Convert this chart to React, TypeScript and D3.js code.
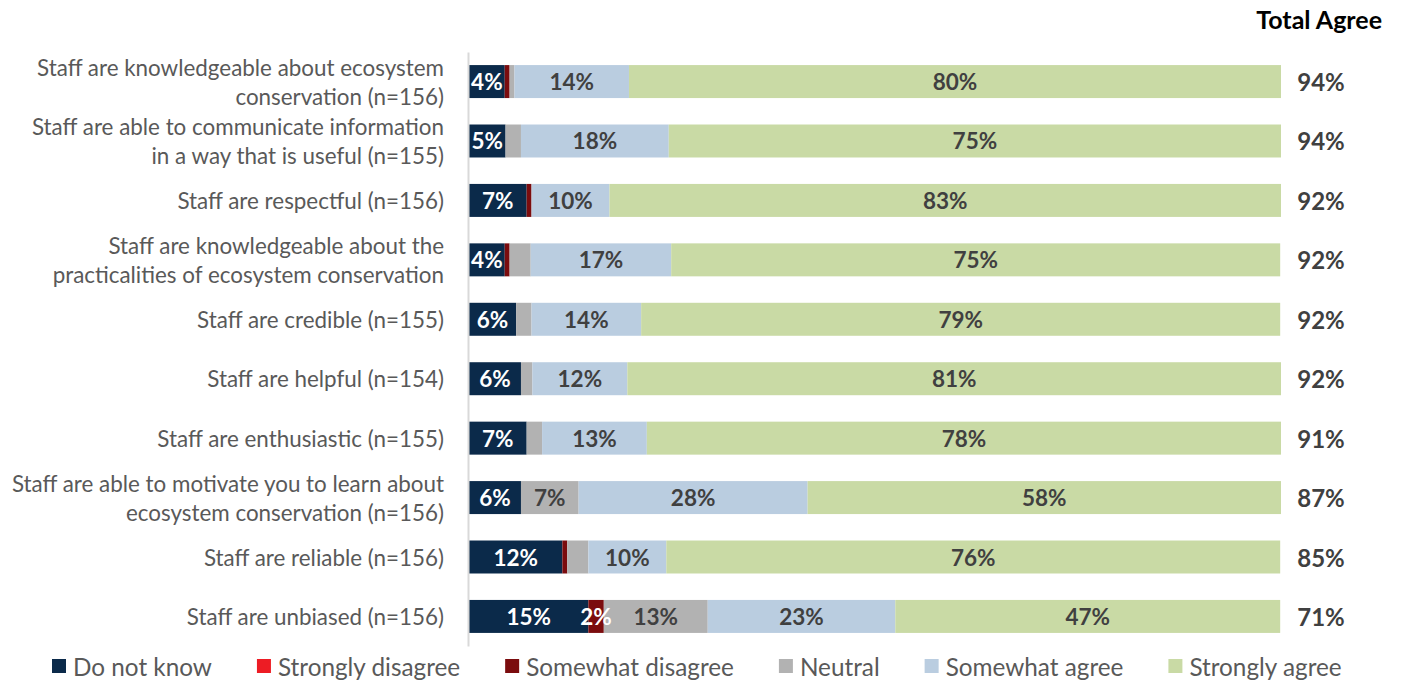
import React, { useEffect, useRef } from 'react';
import * as d3 from 'd3';

const categories = [
  'Staff are knowledgeable about ecosystem\nconservation (n=156)',
  'Staff are able to communicate information\nin a way that is useful (n=155)',
  'Staff are respectful (n=156)',
  'Staff are knowledgeable about the\npracticalities of ecosystem conservation',
  'Staff are credible (n=155)',
  'Staff are helpful (n=154)',
  'Staff are enthusiastic (n=155)',
  'Staff are able to motivate you to learn about\necosystem conservation (n=156)',
  'Staff are reliable (n=156)',
  'Staff are unbiased (n=156)'
];

const seriesNames = [
  'Do not know',
  'Strongly disagree',
  'Somewhat disagree',
  'Neutral',
  'Somewhat agree',
  'Strongly agree'
];
const seriesColors = ['#0B2A4A', '#ED1C24', '#7B0C0E', '#B2B2B2', '#BACDE0', '#C9DAA5'];

const doNotKnow = [4.4, 4.5, 7.1, 4.4, 5.8, 6.4, 7.1, 6.4, 11.5, 14.7];
const stronglyDisagree = [0, 0, 0, 0, 0, 0, 0, 0, 0, 0];
const somewhatDisagree = [0.6, 0, 0.6, 0.6, 0, 0, 0, 0, 0.6, 1.9];
const neutral = [0.6, 1.9, 0, 2.6, 1.9, 1.4, 1.9, 7.1, 2.6, 12.8];
const somewhatAgree = [14.1, 18.2, 9.6, 17.3, 13.5, 11.7, 12.9, 28.2, 9.6, 23.1];
const stronglyAgree = [80.3, 75.4, 82.7, 75.0, 78.7, 80.5, 78.1, 58.3, 75.6, 47.4];
const totalAgree = [94, 94, 92, 92, 92, 92, 91, 87, 85, 71];

const width = 1402;
const height = 681;
const font = 'Lato, "Open Sans", sans-serif';

function App() {
  const svgRef = useRef<SVGSVGElement>(null);

  useEffect(() => {
    document.body.style.margin = '0';
    const svg = d3.select(svgRef.current);
    svg.selectAll('*').remove();

    const series = [doNotKnow, stronglyDisagree, somewhatDisagree, neutral, somewhatAgree, stronglyAgree];
    const rows = categories.map((c, i) => {
      const r: any = { cat: c };
      seriesNames.forEach((s, k) => (r[s] = series[k][i]));
      return r;
    });
    const stacked = d3.stack().keys(seriesNames)(rows);

    const x = d3.scaleLinear().domain([0, 100]).range([469, 1281]);
    const y = d3
      .scaleBand()
      .domain(categories)
      .range([52, 646])
      .paddingInner(0.445)
      .paddingOuter(0.22);
    const color = d3.scaleOrdinal<string>().domain(seriesNames).range(seriesColors);

    // bars
    const layers = svg
      .selectAll('g.layer')
      .data(stacked)
      .enter()
      .append('g')
      .attr('fill', d => color(d.key));
    layers
      .selectAll('rect')
      .data(d => d)
      .enter()
      .append('rect')
      .attr('x', d => x(d[0]))
      .attr('y', (d: any) => y(d.data.cat)!)
      .attr('width', d => x(d[1]) - x(d[0]))
      .attr('height', y.bandwidth());

    // data labels (small slices left unlabelled, as in the source)
    stacked.forEach(layer => {
      const dark = layer.key === 'Do not know' || layer.key.endsWith('disagree');
      layer.forEach((d: any) => {
        const v = d[1] - d[0];
        const show = v >= 4 || (layer.key === 'Somewhat disagree' && v >= 1.5);
        if (!show) return;
        svg
          .append('text')
          .attr('x', (x(d[0]) + x(d[1])) / 2)
          .attr('y', y(d.data.cat)! + y.bandwidth() / 2)
          .attr('text-anchor', 'middle')
          .attr('dominant-baseline', 'central')
          .attr('font-family', font)
          .attr('font-weight', 'bold')
          .attr('font-size', 22.5)
          .attr('fill', dark ? '#ffffff' : '#404040')
          .text(Math.round(v) + '%');
      });
    });

    // axis line
    const axis = svg
      .append('g')
      .attr('transform', 'translate(468,0)')
      .call(d3.axisLeft(y).tickSize(0).tickFormat(() => ''));
    axis.select('.domain').attr('stroke', '#D9D9D9').attr('stroke-width', 2);

    // category labels
    categories.forEach(c => {
      const lines = c.split('\n');
      const cy = y(c)! + y.bandwidth() / 2;
      lines.forEach((ln, j) => {
        svg
          .append('text')
          .attr('x', 444)
          .attr('y', cy + (j - (lines.length - 1) / 2) * 29)
          .attr('text-anchor', 'end')
          .attr('dominant-baseline', 'central')
          .attr('font-family', font)
          .attr('font-size', 22.4)
          .attr('fill', '#595959')
          .text(ln);
      });
    });

    // total agree
    svg
      .append('text')
      .attr('x', 1382)
      .attr('y', 19)
      .attr('text-anchor', 'end')
      .attr('dominant-baseline', 'central')
      .attr('font-family', font)
      .attr('font-weight', 'bold')
      .attr('font-size', 25)
      .attr('fill', '#000000')
      .text('Total Agree');
    categories.forEach((c, i) => {
      svg
        .append('text')
        .attr('x', 1321)
        .attr('y', y(c)! + y.bandwidth() / 2)
        .attr('text-anchor', 'middle')
        .attr('dominant-baseline', 'central')
        .attr('font-family', font)
        .attr('font-weight', 'bold')
        .attr('font-size', 24)
        .attr('fill', '#404040')
        .text(totalAgree[i] + '%');
    });

    // legend
    let lx = 52;
    const ly = 666;
    seriesNames.forEach(s => {
      svg
        .append('rect')
        .attr('x', lx)
        .attr('y', ly - 7)
        .attr('width', 14)
        .attr('height', 14)
        .attr('fill', color(s));
      const t = svg
        .append('text')
        .attr('x', lx + 21)
        .attr('y', ly)
        .attr('dominant-baseline', 'central')
        .attr('font-family', font)
        .attr('font-size', 24.3)
        .attr('fill', '#595959')
        .text(s);
      const w = (t.node() as SVGTextElement).getComputedTextLength();
      lx = lx + 21 + w + 45;
    });
  }, []);

  return <svg ref={svgRef} width={width} height={height} style={{ display: 'block' }} />;
}

export default App;
